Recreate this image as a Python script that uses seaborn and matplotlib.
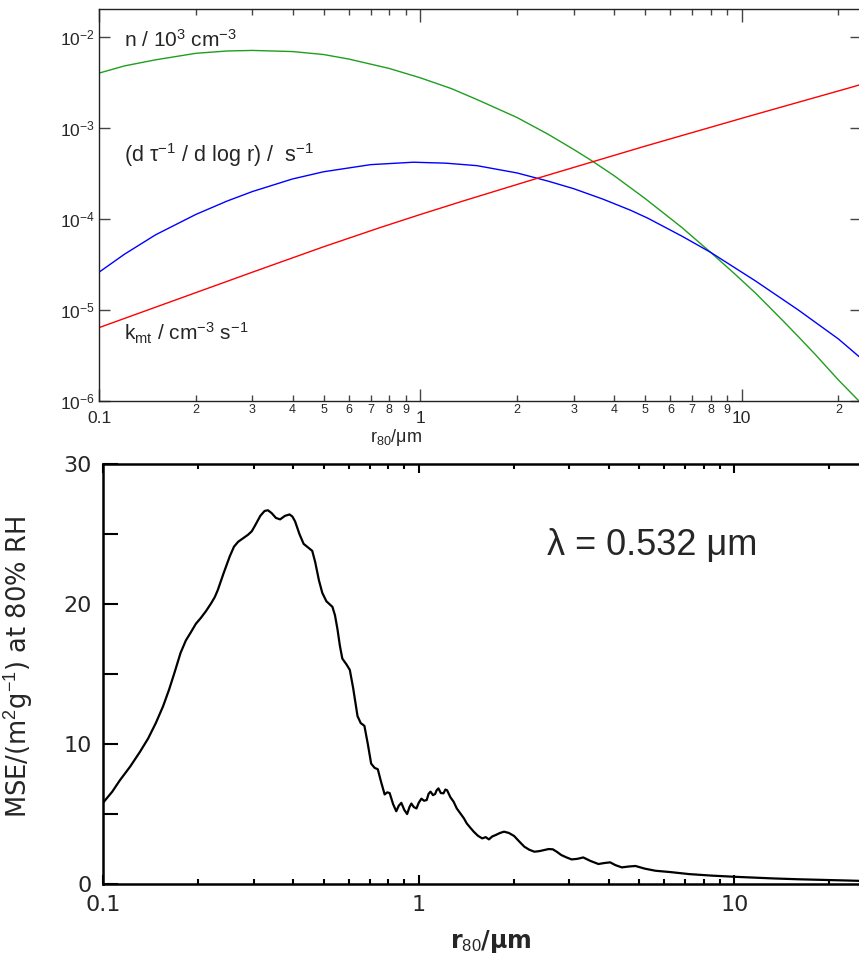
import numpy as np
import pandas as pd
import matplotlib
matplotlib.use("Agg")
import matplotlib.pyplot as plt
import matplotlib.ticker as mticker
import seaborn as sns

# --- top panel: size distribution, optical and mass-transfer curves ---
n_r = [0.1, 0.12, 0.15, 0.2, 0.25, 0.3, 0.4, 0.5, 0.6, 0.8, 1.0, 1.25, 1.5, 2.0, 2.5, 3.0, 3.4, 4.0,
       5.0, 6.5, 8.0, 9.5, 11.0, 13.3, 15.0, 17.0, 20.0, 23.5]
n_val = [4.0e-3, 4.8e-3, 5.6e-3, 6.6e-3, 7.0e-3, 7.1e-3, 6.9e-3, 6.4e-3, 5.7e-3, 4.5e-3, 3.55e-3,
         2.7e-3, 2.05e-3, 1.3e-3, 8.5e-4, 5.8e-4, 4.4e-4, 3.0e-4, 1.68e-4, 8.1e-5, 4.3e-5, 2.5e-5,
         1.55e-5, 7.9e-6, 5.1e-6, 3.2e-6, 1.7e-6, 0.95e-6]

tau_r = [0.1, 0.12, 0.15, 0.2, 0.25, 0.3, 0.4, 0.5, 0.7, 0.95, 1.2, 1.5, 2.0, 2.5, 3.0, 3.7, 4.5, 5.1,
         6.5, 8.0, 11.0, 15.0, 20.0, 23.5]
tau_val = [2.6e-5, 4.1e-5, 6.7e-5, 1.12e-4, 1.57e-4, 2.0e-4, 2.75e-4, 3.3e-4, 3.95e-4, 4.2e-4,
           4.1e-4, 3.85e-4, 3.2e-4, 2.6e-4, 2.15e-4, 1.65e-4, 1.25e-4, 1.02e-4, 6.5e-5, 4.3e-5,
           2.1e-5, 1.0e-5, 4.8e-6, 2.95e-6]

kmt_r = [0.1, 0.2, 0.3, 0.5, 0.746, 1.0, 1.37, 2.29, 3.4, 5.0, 10.5, 21.5, 23.5]
kmt_val = [6.4e-6, 1.55e-5, 2.6e-5, 4.95e-5, 8.0e-5, 1.12e-4, 1.59e-4, 2.77e-4, 4.2e-4, 6.3e-4,
           1.34e-3, 2.74e-3, 3.0e-3]

# --- bottom panel: mass scattering efficiency at 80% RH ---
mse_r = [0.1, 0.107, 0.113, 0.122, 0.131, 0.139, 0.147, 0.155, 0.162, 0.169, 0.176, 0.183, 0.19,
         0.197, 0.204, 0.212, 0.22, 0.226, 0.231, 0.241, 0.252, 0.26, 0.268, 0.278, 0.288, 0.296,
         0.303, 0.315, 0.325, 0.333, 0.342, 0.353, 0.364, 0.377, 0.39, 0.398, 0.406, 0.419, 0.432,
         0.446, 0.46, 0.47, 0.483, 0.495, 0.51, 0.533, 0.543, 0.553, 0.563, 0.573, 0.59, 0.605,
         0.62, 0.64, 0.655, 0.673, 0.69, 0.707, 0.725, 0.742, 0.76, 0.78, 0.795, 0.809, 0.83,
         0.849, 0.865, 0.881, 0.9, 0.919, 0.935, 0.948, 0.965, 0.984, 1.0, 1.02, 1.04, 1.06, 1.075,
         1.09, 1.11, 1.127, 1.14, 1.155, 1.175, 1.198, 1.215, 1.23, 1.26, 1.29, 1.32, 1.355, 1.39,
         1.42, 1.46, 1.494, 1.54, 1.589, 1.63, 1.669, 1.71, 1.753, 1.81, 1.864, 1.93, 2.006, 2.08,
         2.16, 2.24, 2.325, 2.41, 2.503, 2.58, 2.66, 2.74, 2.83, 2.94, 3.05, 3.18, 3.32, 3.5, 3.71,
         3.87, 4.04, 4.2, 4.4, 4.62, 4.86, 5.2, 5.62, 6.3, 7.19, 8.5, 9.98, 11.5, 13.3, 16.0, 19.9,
         23.0, 26.4]
mse_val = [5.8, 6.6, 7.4, 8.4, 9.45, 10.4, 11.5, 12.7, 13.9, 15.2, 16.5, 17.4, 18.0,
           18.6, 19.0, 19.5, 20.05, 20.5, 21.0, 22.2, 23.4, 24.1, 24.45, 24.7, 24.95, 25.2,
           25.6, 26.3, 26.65, 26.7, 26.5, 26.15, 26.05, 26.3, 26.4, 26.25, 25.9, 25.0, 24.3,
           24.05, 23.8, 23.0, 21.7, 20.8, 20.2, 19.8, 19.2, 18.2, 17.0, 16.1, 15.7, 15.3,
           14.0, 12.0, 11.5, 11.3, 10.0, 8.6, 8.3, 8.2, 7.3, 6.4, 6.55, 6.5, 5.7,
           5.2, 5.6, 5.8, 5.3, 5.0, 5.5, 5.75, 5.5, 5.4, 5.8, 6.1, 5.95, 6.0, 6.45,
           6.6, 6.35, 6.43, 6.7, 6.83, 6.5, 6.48, 6.75, 6.7, 6.2, 5.88, 5.4, 5.05, 4.7,
           4.33, 4.0, 3.74, 3.45, 3.26, 3.35, 3.19, 3.4, 3.5, 3.65, 3.74, 3.65, 3.43, 3.05,
           2.67, 2.45, 2.31, 2.35, 2.43, 2.5, 2.48, 2.3, 2.07, 1.9, 1.76, 1.8, 1.9, 1.65, 1.43,
           1.5, 1.55, 1.35, 1.19, 1.25, 1.29, 1.1, 0.95, 0.85, 0.71, 0.6, 0.52, 0.46, 0.4, 0.34, 0.29,
           0.25, 0.21]

sns.set_style("ticks")
plt.rcParams['font.family'] = ['Liberation Sans', 'DejaVu Sans']
plt.rcParams['mathtext.fontset'] = 'custom'
plt.rcParams['mathtext.rm'] = 'Liberation Sans'
plt.rcParams['mathtext.it'] = 'Liberation Sans:italic'
plt.rcParams['mathtext.bf'] = 'Liberation Sans:bold'
plt.rcParams['axes.unicode_minus'] = False

fig = plt.figure(figsize=(8.59, 9.58), dpi=100)
ax1 = fig.add_axes([0.1153, 0.5814, 0.887, 0.4087])
ax2 = fig.add_axes([0.1199, 0.0772, 0.89, 0.4384])

# top panel
for xs, ys, col in [(n_r, n_val, '#1f9e1f'), (tau_r, tau_val, '#0000ff'), (kmt_r, kmt_val, '#ff0000')]:
    sns.lineplot(x=xs, y=ys, ax=ax1, color=col, linewidth=1.0, sort=False)

ax1.set_xscale('log')
ax1.set_yscale('log')
ax1.set_xlim(0.1, 23.5)
ax1.set_ylim(1e-6, 2e-2)
ax1.xaxis.set_major_locator(mticker.FixedLocator([0.1, 1, 10]))
ax1.xaxis.set_major_formatter(mticker.FixedFormatter(['0.1', '1', '10']))
ax1.xaxis.set_minor_locator(mticker.LogLocator(base=10, subs=np.arange(2, 10), numticks=20))
ax1.xaxis.set_minor_formatter(mticker.FuncFormatter(lambda v, p: f"{int(round(v / 10 ** np.floor(np.log10(v) + 1e-9)))}"))
ax1.yaxis.set_major_locator(mticker.LogLocator(base=10, numticks=10))
ax1.yaxis.set_minor_locator(mticker.NullLocator())
ax1.tick_params(which='both', direction='in', top=True, right=True, color='#444444', width=1.0)
ax1.tick_params(axis='x', which='major', length=9, labelsize=12.5, pad=7)
ax1.tick_params(axis='x', which='minor', length=4.5, labelsize=9, pad=2)
ax1.tick_params(axis='y', which='major', length=8, labelsize=12.5, pad=3)
for s in ax1.spines.values():
    s.set_linewidth(1.0)
    s.set_color('#222222')
ax1.set_xlabel('r$_{80}$/μm', fontsize=13)
ax1.xaxis.set_label_coords(0.39, -0.066)
ax1.set_ylabel('')

ax1.text(0.033, 0.922, 'n / 10$^{3}$ cm$^{-3}$', transform=ax1.transAxes, fontsize=15, va='center')
ax1.text(0.033, 0.628, '(d τ$^{-1}$ / d log r) /  s$^{-1}$', transform=ax1.transAxes, fontsize=15.5, va='center')
ax1.text(0.033, 0.172, 'k$_{\\mathrm{mt}}$ / cm$^{-3}$ s$^{-1}$', transform=ax1.transAxes, fontsize=15, va='center')

# bottom panel
sns.lineplot(x=mse_r, y=mse_val, ax=ax2, color='black', linewidth=1.6, sort=False)
ax2.set_xscale('log')
ax2.set_xlim(0.1, 26.4)
ax2.set_ylim(0, 30)
ax2.xaxis.set_major_locator(mticker.FixedLocator([0.1, 1, 10]))
ax2.xaxis.set_major_formatter(mticker.FixedFormatter(['0.1', '1', '10']))
ax2.xaxis.set_minor_locator(mticker.LogLocator(base=10, subs=np.arange(2, 10), numticks=20))
ax2.xaxis.set_minor_formatter(mticker.NullFormatter())
ax2.yaxis.set_major_locator(mticker.MultipleLocator(5))
ax2.yaxis.set_major_formatter(mticker.FuncFormatter(lambda v, p: f"{int(v)}" if int(v) % 10 == 0 else ""))
ax2.tick_params(which='both', direction='in', top=True, right=False, color='black', width=1.5)
ax2.tick_params(axis='x', which='major', length=6.5, labelsize=16, pad=8)
ax2.tick_params(axis='x', which='minor', length=3.5)
ax2.tick_params(axis='y', which='major', length=11, labelsize=16, pad=8)
for lab in ax2.get_xticklabels() + ax2.get_yticklabels():
    lab.set_family('DejaVu Sans')
for s in ax2.spines.values():
    s.set_linewidth(1.8)
    s.set_color('black')

ax2.set_xlabel('r$_{80}$/μm', fontsize=17, fontweight='bold', family='DejaVu Sans')
ax2.xaxis.set_label_coords(0.507, -0.105)
ax2.set_ylabel('MSE/(m$^{2}$g$^{-1}$) at 80% RH', fontsize=18.5, family='DejaVu Sans')
ax2.yaxis.set_label_coords(-0.087, 0.517)
ax2.text(0.581, 0.807, 'λ = 0.532 μm', transform=ax2.transAxes, fontsize=26, va='center', ha='left')

fig.savefig('out.png', dpi=100)
